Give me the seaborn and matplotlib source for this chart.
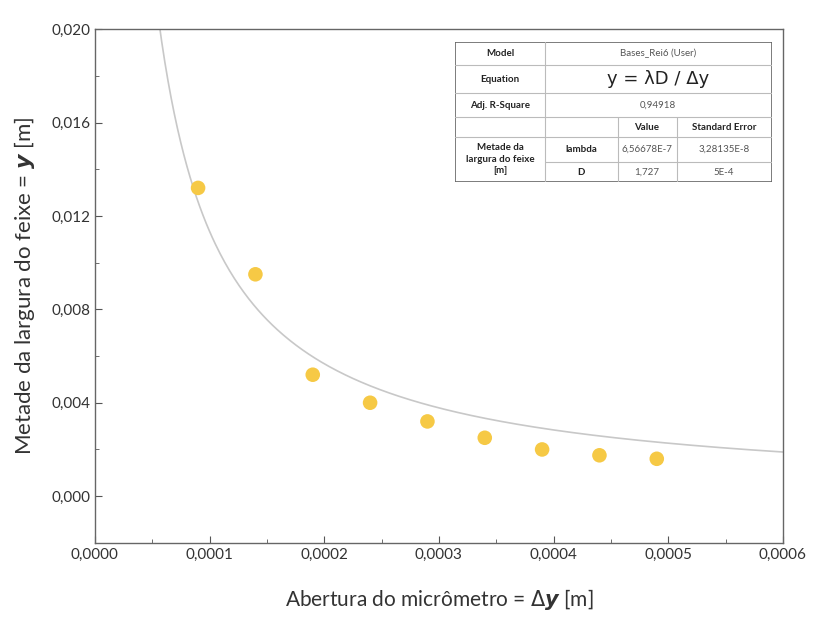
import numpy as np
import pandas as pd
import seaborn as sns
import matplotlib.pyplot as plt
from matplotlib.ticker import MultipleLocator, FuncFormatter

# data
abertura = [0.00009, 0.00014, 0.00019, 0.00024, 0.00029, 0.00034, 0.00039, 0.00044, 0.00049]
metade = [0.0132, 0.0095, 0.0052, 0.0040, 0.0032, 0.0025, 0.0020, 0.00175, 0.0016]

# fit parameters from the table
lam = 6.56678e-7
D = 1.727

sns.set_style("ticks")
plt.rcParams['font.family'] = ['Lato', 'DejaVu Sans']
plt.rcParams['mathtext.fontset'] = 'custom'
plt.rcParams['mathtext.rm'] = 'DejaVu Sans'
plt.rcParams['mathtext.it'] = 'DejaVu Sans:italic'
plt.rcParams['mathtext.bf'] = 'DejaVu Sans:bold'
plt.rcParams['mathtext.bfit'] = 'DejaVu Sans:italic:bold'

df = pd.DataFrame({"x": abertura, "y": metade})
xfit = np.linspace(0.00005, 0.0006, 400)
fit = pd.DataFrame({"x": xfit, "y": lam * D / xfit})

fig = plt.figure(figsize=(8.25, 6.19), dpi=100)
ax = fig.add_axes([0.115, 0.123, 0.834, 0.830])

sns.lineplot(data=fit, x="x", y="y", color="#c8c8c8", lw=1.2, ax=ax)
sns.scatterplot(data=df, x="x", y="y", color="#f6c945", s=110, edgecolor="none", ax=ax, zorder=3)

ax.set_xlim(0, 0.0006)
ax.set_ylim(-0.002, 0.020)
ax.xaxis.set_major_locator(MultipleLocator(0.0001))
ax.xaxis.set_minor_locator(MultipleLocator(0.00005))
ax.yaxis.set_major_locator(MultipleLocator(0.004))
ax.yaxis.set_minor_locator(MultipleLocator(0.002))
ax.xaxis.set_major_formatter(FuncFormatter(lambda v, p: f"{v:.4f}".replace(".", ",")))
ax.yaxis.set_major_formatter(FuncFormatter(lambda v, p: f"{v:.3f}".replace(".", ",")))
ax.tick_params(which="both", direction="in", colors="#555555", labelcolor="#333333", labelsize=11)
ax.tick_params(which="major", length=5)
ax.tick_params(which="minor", length=3)
for s in ax.spines.values():
    s.set_color("#666666")
    s.set_linewidth(1.0)

ax.set_xlabel(r"Abertura do micrômetro = $\mathit{\Delta}\mathbfit{y}$ [m]", fontsize=15, color="#333333", labelpad=18)
ax.set_ylabel(r"Metade da largura do feixe = $\mathbfit{y}$ [m]", fontsize=16, color="#333333", labelpad=10)

# inset results table (pixel-like coords)
W, H = 317, 140
tab = fig.add_axes([455 / 825, 1 - 182 / 619, W / 825, H / 619])
tab.set_xlim(0, W)
tab.set_ylim(H, 0)
tab.axis("off")
tab.add_patch(plt.Rectangle((0, 0), W, H, facecolor="white", edgecolor="#666666", lw=1.2))
cols = [0, 90, 163, 222, W]
rows = [0, 23, 51, 75, 95, 120, H]
lc = "#bbbbbb"
for y in rows[1:-1]:
    x0 = 0 if y != 120 else cols[1]
    tab.plot([x0, W], [y, y], color=lc, lw=0.8)
tab.plot([cols[1], cols[1]], [0, H], color=lc, lw=0.8)
for c in cols[2:4]:
    tab.plot([c, c], [rows[3], H], color=lc, lw=0.8)

bc = "#222222"
gc = "#555555"
fs = 7
tab.text(45, 11.5, "Model", ha="center", va="center", fontsize=fs, fontweight="bold", color=bc)
tab.text(203, 11.5, "Bases_Rei6 (User)", ha="center", va="center", fontsize=fs, color=gc)
tab.text(45, 37, "Equation", ha="center", va="center", fontsize=fs, fontweight="bold", color=bc)
tab.text(203, 37, "y = λD / Δy", ha="center", va="center", fontsize=13, color=bc, family="DejaVu Sans")
tab.text(45, 63, "Adj. R-Square", ha="center", va="center", fontsize=fs, fontweight="bold", color=bc)
tab.text(203, 63, "0,94918", ha="center", va="center", fontsize=fs, color=gc)
tab.text(192, 85, "Value", ha="center", va="center", fontsize=fs, fontweight="bold", color=bc)
tab.text(269, 85, "Standard Error", ha="center", va="center", fontsize=fs, fontweight="bold", color=bc)
tab.text(45, 117, "Metade da\nlargura do feixe\n[m]", ha="center", va="center", fontsize=fs, fontweight="bold", color=bc, linespacing=1.3)
tab.text(126, 107, "lambda", ha="center", va="center", fontsize=fs, fontweight="bold", color=bc)
tab.text(192, 107, "6,56678E-7", ha="center", va="center", fontsize=fs, color=gc)
tab.text(269, 107, "3,28135E-8", ha="center", va="center", fontsize=fs, color=gc)
tab.text(126, 130, "D", ha="center", va="center", fontsize=fs, fontweight="bold", color=bc)
tab.text(192, 130, "1,727", ha="center", va="center", fontsize=fs, color=gc)
tab.text(269, 130, "5E-4", ha="center", va="center", fontsize=fs, color=gc)

fig.savefig("out.png", dpi=100)
